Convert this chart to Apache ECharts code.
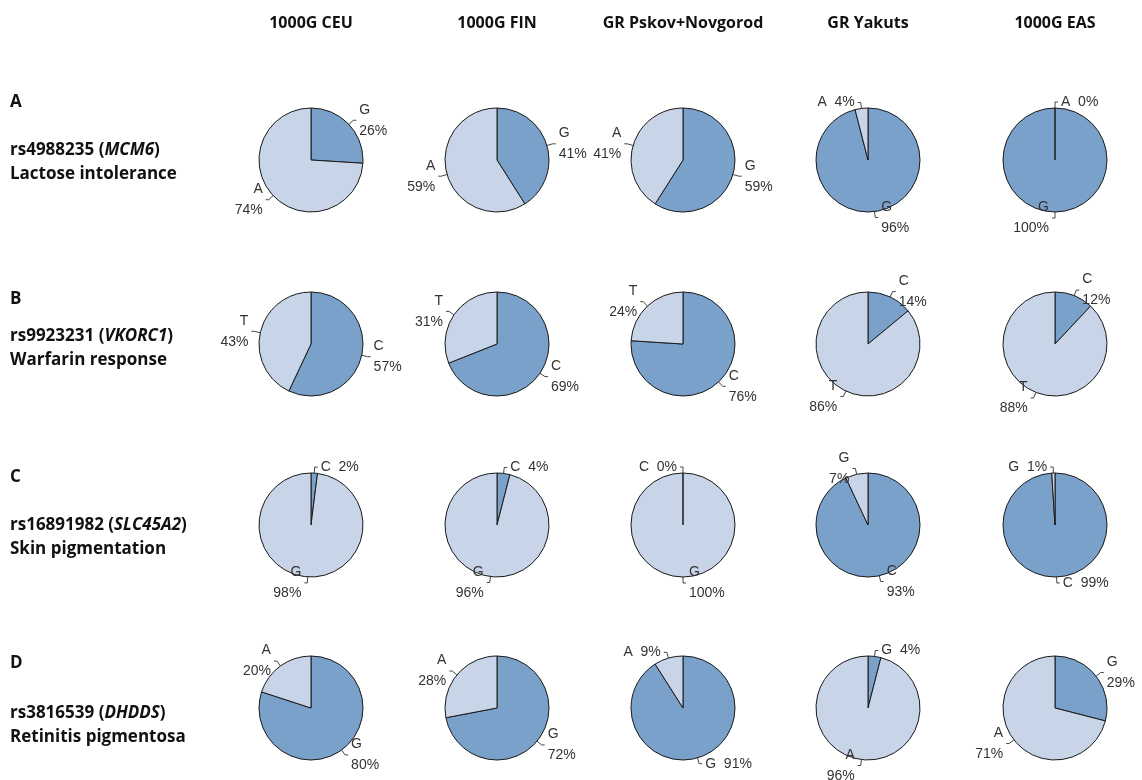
<!DOCTYPE html>
<html>
<head>
<meta charset="utf-8">
<script src="https://cdn.jsdelivr.net/npm/echarts@6/dist/echarts.min.js"></script>
<style>
  html, body { margin: 0; padding: 0; background: #fff; }
  #container { width: 1142px; height: 780px; }
</style>
</head>
<body>
<div id="container"></div>
<script>
// column headers (populations)
var populations = ['1000G CEU', '1000G FIN', 'GR Pskov+Novgorod', 'GR Yakuts', '1000G EAS'];

// rows (SNPs)
var rowLetters = ['A', 'B', 'C', 'D'];
var snpIds = ['rs4988235', 'rs9923231', 'rs16891982', 'rs3816539'];
var genes = ['MCM6', 'VKORC1', 'SLC45A2', 'DHDDS'];
var traits = ['Lactose intolerance', 'Warfarin response', 'Skin pigmentation', 'Retinitis pigmentosa'];

// allele drawn dark (clockwise from 12 o'clock) and light
var darkAllele = ['G', 'C', 'C', 'G'];
var lightAllele = ['A', 'T', 'G', 'A'];

// allele frequencies, %, per row then per population
var darkPct = [
  [26, 41, 59, 96, 100],
  [57, 69, 76, 14, 12],
  [2, 4, 0, 93, 99],
  [80, 72, 91, 4, 29]
];
var lightPct = [
  [74, 59, 41, 4, 0],
  [43, 31, 24, 86, 88],
  [98, 96, 100, 7, 1],
  [20, 28, 9, 96, 71]
];

// labels written on one line ("C  2%") instead of two
var oneLineDark = [
  [false, false, false, false, false],
  [false, false, false, false, false],
  [true, true, true, false, true],
  [false, false, true, true, false]
];
var oneLineLight = [
  [false, false, false, true, true],
  [false, false, false, false, false],
  [false, false, false, false, true],
  [false, false, true, false, false]
];

// layout
var colX = [311, 497, 683, 868, 1055];
var rowY = [160, 344, 525, 708];
var letterY = [102, 299, 477, 663];
var snpY = [150, 336, 525, 713];
var darkColor = '#7aa1c9';
var lightColor = '#c8d4e8';

var dom = document.getElementById('container');
var myChart = echarts.init(dom);

var series = [];
var graphics = [];

// column titles
for (var c = 0; c < populations.length; c++) {
  graphics.push({
    type: 'text',
    x: colX[c],
    y: 23,
    style: {
      text: populations[c],
      font: 'bold 16px "Open Sans"',
      fill: '#111',
      align: 'center',
      verticalAlign: 'middle'
    }
  });
}

// row titles
for (var r = 0; r < rowLetters.length; r++) {
  graphics.push({
    type: 'text',
    x: 10,
    y: letterY[r],
    style: {
      text: rowLetters[r],
      font: 'bold 17px "Open Sans"',
      fill: '#111',
      verticalAlign: 'middle'
    }
  });
  graphics.push({
    type: 'text',
    x: 10,
    y: snpY[r] - 12,
    style: {
      text: '{b|' + snpIds[r] + ' (}{i|' + genes[r] + '}{b|)}\n{b|' + traits[r] + '}',
      verticalAlign: 'top',
      rich: {
        b: { font: 'bold 17px "Open Sans"', fill: '#111', lineHeight: 24 },
        i: { font: 'italic bold 17px "Open Sans"', fill: '#111', lineHeight: 24 }
      }
    }
  });
}

function makeLabel(allele, pct, oneLine) {
  return oneLine ? allele + '  ' + pct + '%' : allele + '\n' + pct + '%';
}

for (var r = 0; r < rowLetters.length; r++) {
  for (var c = 0; c < populations.length; c++) {
    var darkItem = {
      name: darkAllele[r],
      value: darkPct[r][c],
      itemStyle: { color: darkColor },
      label: { formatter: makeLabel(darkAllele[r], darkPct[r][c], oneLineDark[r][c]) }
    };
    var lightItem = {
      name: lightAllele[r],
      value: lightPct[r][c],
      itemStyle: { color: lightColor },
      label: { formatter: makeLabel(lightAllele[r], lightPct[r][c], oneLineLight[r][c]) }
    };
    // same geometry either way; an empty slice is drawn last so its edge stays visible
    var ccw = darkPct[r][c] === 0;
    series.push({
      type: 'pie',
      name: snpIds[r] + ' ' + populations[c],
      center: [colX[c], rowY[r]],
      radius: 52,
      startAngle: 90,
      clockwise: !ccw,
      avoidLabelOverlap: false,
      animation: false,
      silent: true,
      itemStyle: { borderColor: '#1a1a1a', borderWidth: 1 },
      label: {
        show: true,
        position: 'outside',
        color: '#333',
        fontFamily: 'Liberation Sans',
        fontSize: 14,
        lineHeight: 21,
        distanceToLabelLine: 3
      },
      labelLine: {
        show: true,
        length: 6,
        length2: 3,
        lineStyle: { color: '#444', width: 1 }
      },
      data: ccw ? [lightItem, darkItem] : [darkItem, lightItem]
    });
  }
}

var option = {
  backgroundColor: '#ffffff',
  graphic: graphics,
  series: series
};

myChart.setOption(option, true);
</script>
</body>
</html>
